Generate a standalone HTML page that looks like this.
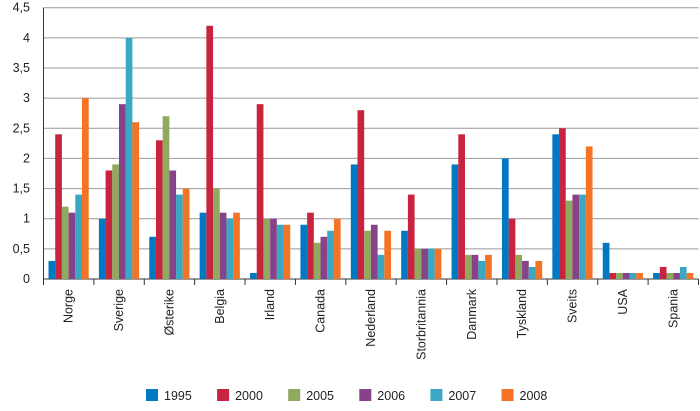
<!DOCTYPE html>
<html><head><meta charset="utf-8"><style>
body{margin:0;background:#fff}
svg text{font-family:"Liberation Sans",sans-serif;font-size:12.5px;fill:#222}
</style></head><body>
<svg id="c" width="700" height="406"></svg>
<script>
const categories=["Norge","Sverige","Østerike","Belgia","Irland","Canada","Nederland","Storbritannia","Danmark","Tyskland","Sveits","USA","Spania"];
const seriesNames=["1995","2000","2005","2006","2007","2008"];
const s1995=[0.3,1.0,0.7,1.1,0.1,0.9,1.9,0.8,1.9,2.0,2.4,0.6,0.1];
const s2000=[2.4,1.8,2.3,4.2,2.9,1.1,2.8,1.4,2.4,1.0,2.5,0.1,0.2];
const s2005=[1.2,1.9,2.7,1.5,1.0,0.6,0.8,0.5,0.4,0.4,1.3,0.1,0.1];
const s2006=[1.1,2.9,1.8,1.1,1.0,0.7,0.9,0.5,0.4,0.3,1.4,0.1,0.1];
const s2007=[1.4,4.0,1.4,1.0,0.9,0.8,0.4,0.5,0.3,0.2,1.4,0.1,0.2];
const s2008=[3.0,2.6,1.5,1.1,0.9,1.0,0.8,0.5,0.4,0.3,2.2,0.1,0.1];
const yTicks=["0","0,5","1","1,5","2","2,5","3","3,5","4","4,5"];
const series=[s1995,s2000,s2005,s2006,s2007,s2008];
const colors=["#0079c2","#c8243f","#8fa95e","#87428a","#3aa8c3","#f47324"];
const svg=document.getElementById('c');const NS="http://www.w3.org/2000/svg";
function mk(t,a,p){const e=document.createElementNS(NS,t);for(const k in a)e.setAttribute(k,a[k]);(p||svg).appendChild(e);return e;}
const x0=43.5,x1=698.5,y0=279,yTop=7.7,yMax=4.5;
const gw=(x1-x0)/categories.length,bw=6.7;
const y=v=>y0-(v/yMax)*(y0-yTop);
yTicks.forEach((t,i)=>{const v=i*0.5;
 const g=mk('line',{x1:x0,x2:x1,y1:y(v),y2:y(v),stroke:i==0?'#333':'#999','stroke-width':1});
 
 
 const tx=mk('text',{x:30,y:y(v)+4,'text-anchor':'end'});tx.textContent=t;
 
 
});
const ax=mk('line',{x1:x0,x2:x0,y1:yTop,y2:y0+6,stroke:'#333'});


categories.forEach((c,i)=>{const gx=x0+i*gw;
 const tk=mk('line',{x1:gx+gw,x2:gx+gw,y1:y0,y2:y0+6,stroke:'#333'});
 
 
 series.forEach((s,j)=>{const r=mk('rect',{x:gx+5+j*bw,y:y(s[i]),width:bw,height:y0-y(s[i]),fill:colors[j]});
  
  });
 const cx=gx+gw/2+4;
 const t=mk('text',{x:cx,y:289,transform:`rotate(-90 ${cx} 289)`,'text-anchor':'end'});t.textContent=c;
 
 
});
seriesNames.forEach((n,j)=>{const lx=146+j*71.1;
 const g=mk('g',{});
 
 
 mk('rect',{x:lx,y:389,width:12,height:12,fill:colors[j]},g);
 const t=mk('text',{x:lx+18,y:400},g);t.textContent=n;});
</script>
</body></html>
